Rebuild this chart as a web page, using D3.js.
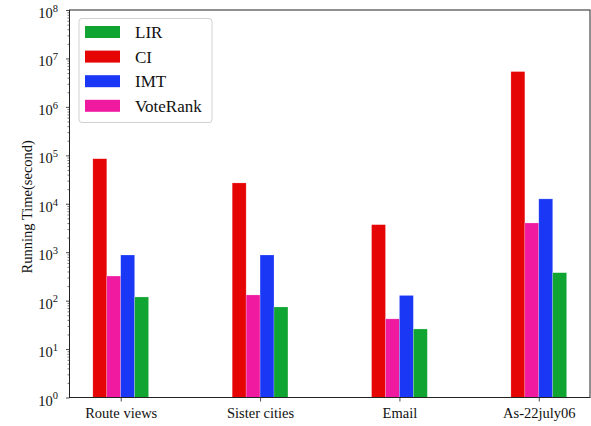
<!DOCTYPE html>
<html>
<head>
<meta charset="utf-8">
<script src="https://cdn.jsdelivr.net/npm/d3@7/dist/d3.min.js"></script>
<style>
  html, body { margin: 0; padding: 0; background: #fff; }
  svg { display: block; }
  svg text { font-family: "Liberation Serif", "Times New Roman", serif !important; fill: #111; }
</style>
</head>
<body>
<script>
// Running time (seconds) of each method on four networks
const datasets = ["Route views", "Sister cities", "Email", "As-22july06"];
const ciTimes       = [85000, 26900, 3700, 5360000];
const voteRankTimes = [322, 131, 42, 4010];
const imtTimes      = [875, 875, 128, 12600];
const lirTimes      = [119, 74, 26, 377];
const yTickExponents = [0, 1, 2, 3, 4, 5, 6, 7, 8];

// bars are drawn left to right in this order
const series = [
  { name: "CI",       values: ciTimes,       color: "#e60505" },
  { name: "VoteRank", values: voteRankTimes, color: "#f01aa0" },
  { name: "IMT",      values: imtTimes,      color: "#1a37f5" },
  { name: "LIR",      values: lirTimes,      color: "#10a532" }
];
const legendOrder = ["LIR", "CI", "IMT", "VoteRank"];

const SERIF = '"Liberation Serif", "Times New Roman", serif';
const W = 591, H = 426;
const m = { left: 69.5, right: 1, top: 10, bottom: 28.5 };
const svg = d3.select("body").append("svg").attr("width", W).attr("height", H);

const x = d3.scaleLinear()
  .domain([-0.3675, datasets.length - 1 + 0.3675])
  .range([m.left, W - m.right]);
const y = d3.scaleLog().domain([1, 1e8]).range([H - m.bottom, m.top]);
const barW = 0.1;

// bars
series.forEach((s, si) => {
  svg.append("g").selectAll("rect")
    .data(s.values)
    .join("rect")
    .attr("x", (d, i) => x(i + (si - 2) * barW))
    .attr("width", x(barW) - x(0))
    .attr("y", d => y(d))
    .attr("height", d => y(1) - y(d))
    .attr("fill", s.color)
    .attr("stroke", "rgba(255,255,255,0.35)")
    .attr("stroke-width", 0.6);
});

// y axis: major decades plus log minor ticks
const minor = [];
for (let e = 0; e < 8; e++) for (let k = 2; k <= 9; k++) minor.push(k * Math.pow(10, e));
const yAxisMinor = d3.axisLeft(y).tickValues(minor).tickSize(2).tickFormat("");
const gMinor = svg.append("g").attr("transform", `translate(${m.left},0)`).call(yAxisMinor);
gMinor.select(".domain").remove();
gMinor.selectAll("line").attr("stroke", "#222").attr("stroke-width", 0.6);

const yAxis = d3.axisLeft(y)
  .tickValues(yTickExponents.map(e => Math.pow(10, e)))
  .tickSize(3.5).tickPadding(3).tickFormat("");
const gy = svg.append("g").attr("transform", `translate(${m.left},0)`).call(yAxis);
gy.attr("font-family", SERIF);
gy.select(".domain").remove();
gy.selectAll("line").attr("stroke", "#222").attr("stroke-width", 0.8);
gy.selectAll(".tick").each(function (d) {
  const t = d3.select(this).append("text")
    .attr("x", -11.5).attr("dy", "0.52em")
    .attr("text-anchor", "end")
    .style("font-family", SERIF)
    .style("font-size", "14.5px");
  t.append("tspan").text("10");
  t.append("tspan").attr("dy", "-0.6em").style("font-size", "10.5px")
    .text(Math.round(Math.log10(d)));
});

// x axis
const xAxis = d3.axisBottom(x)
  .tickValues(d3.range(datasets.length))
  .tickFormat(i => datasets[i])
  .tickSize(4).tickPadding(6);
const gx = svg.append("g").attr("transform", `translate(0,${H - m.bottom})`).call(xAxis);
gx.attr("font-family", SERIF);
gx.select(".domain").remove();
gx.selectAll("line").attr("stroke", "#222").attr("stroke-width", 0.8);
gx.selectAll("text")
  .style("font-family", SERIF)
  .style("font-size", "14.5px").attr("fill", "#111");

// frame
svg.append("rect")
  .attr("x", m.left).attr("y", m.top)
  .attr("width", W - m.right - m.left).attr("height", H - m.bottom - m.top)
  .attr("fill", "none").attr("stroke", "#222").attr("stroke-width", 1);

// y label
svg.append("text")
  .attr("transform", `translate(27,${(m.top + H - m.bottom) / 2 + 3}) rotate(-90)`)
  .attr("text-anchor", "middle").attr("dy", "0.35em")
  .style("font-family", SERIF)
  .style("font-size", "14.5px")
  .text("Running Time(second)");

// legend
const lg = svg.append("g").attr("transform", "translate(79,18.5)");
lg.append("rect")
  .attr("width", 133).attr("height", 104).attr("rx", 3)
  .attr("fill", "#fff").attr("fill-opacity", 0.8)
  .attr("stroke", "#d0d0d0").attr("stroke-width", 1);
legendOrder.forEach((name, i) => {
  const s = series.find(v => v.name === name);
  const cy = 13.5 + i * 24.6;
  lg.append("rect")
    .attr("x", 6).attr("y", cy - 6).attr("width", 35).attr("height", 12)
    .attr("fill", s.color);
  lg.append("text")
    .attr("x", 56).attr("y", cy).attr("dy", "0.35em")
    .style("font-family", SERIF)
    .style("font-size", "17px")
    .text(name);
});
</script>
</body>
</html>
